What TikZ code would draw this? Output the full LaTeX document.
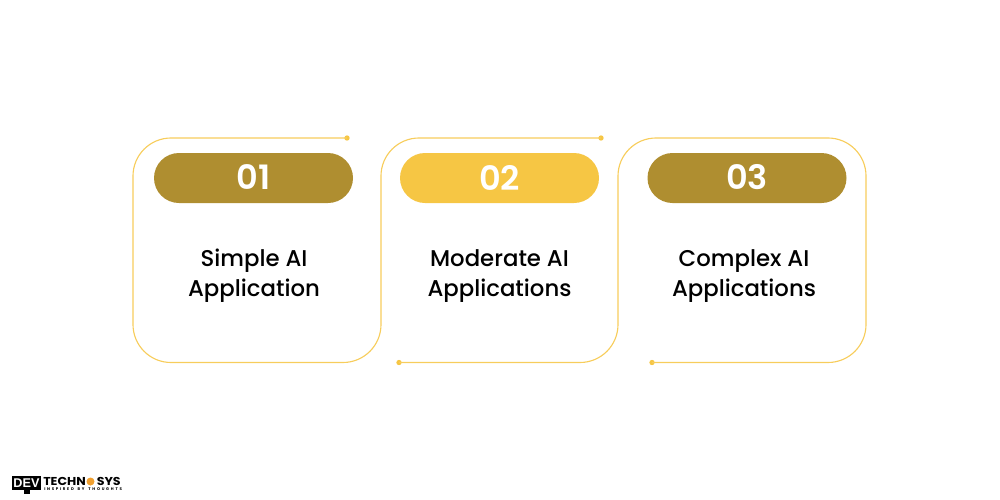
\documentclass[tikz,border=0pt]{standalone}
\usepackage{fontspec}
\setmainfont{Poppins}
\newfontfamily\logofont[FakeStretch=1.1]{Poppins}
\newfontfamily\tagfont[LetterSpace=45,WordSpace=1.5]{Poppins}
\newfontfamily\devfont{Liberation Sans}
\newfontfamily\numfont{Poppins SemiBold}
\newfontfamily\labelfont{Poppins Medium}
\definecolor{goldpill}{HTML}{AF8E30}
\definecolor{yellowpill}{HTML}{F6C644}
\definecolor{linegold}{HTML}{F7CD5C}
\definecolor{logoorange}{HTML}{F0A030}
\tikzset{
  pill/.style={rounded corners=18.75pt,minimum width=149.25pt,minimum height=37.5pt,inner sep=0pt,text=white},
  pilltext/.style={inner sep=0pt,text=white,font=\numfont\fontsize{25.2}{25.2}\selectfont},
  label/.style={align=center,text=black,font=\labelfont\fontsize{17.1}{22.5}\selectfont},
  dotnode/.style={circle,fill=yellowpill,minimum size=4pt,inner sep=0pt},
  frame/.style={draw=linegold,line width=0.85pt,rounded corners=28.5pt},
  logotext/.style={anchor=west,inner sep=0pt,font=\logofont\bfseries\fontsize{8.6}{8.6}\selectfont},
}
\begin{document}
\begin{tikzpicture}[x=0.75pt,y=-0.75pt]
\useasboundingbox (0,0) rectangle (1000,500);
% end dots
\node[dotnode] (d1) at (347,138) {};
\node[dotnode] (d2) at (601,138) {};
\node[dotnode] (d3) at (399,362.5) {};
\node[dotnode] (d4) at (652,362.5) {};
% corners
\coordinate (a1) at (133,138);
\coordinate (a2) at (133,362.5);
\coordinate (a3) at (381,362.5);
\coordinate (a4) at (381,138);
\coordinate (b1) at (618,362.5);
\coordinate (b2) at (618,138);
\coordinate (b3) at (866,138);
\coordinate (b4) at (866,362.5);
\draw[frame] (d1.center) -- (a1) -- (a2) -- (a3) -- (a4) -- (d2.center);
\draw[frame] (d3.center) -- (b1) -- (b2) -- (b3) -- (b4) -- (d4.center);
% pills
\node[pill,fill=goldpill] (p1) at (253.5,178) {};
\node[pill,fill=yellowpill] (p2) at (499.5,178) {};
\node[pill,fill=goldpill] (p3) at (747,178) {};
\node[pilltext] (n1) at (253.5,177.5) {01};
\node[pilltext] (n2) at (499.5,177.5) {02};
\node[pilltext] (n3) at (747,177.5) {03};
% labels
\node[label] (t1) at (254,276) {Simple AI\\Application};
\node[label] (t2) at (499.5,276) {Moderate AI\\Applications};
\node[label] (t3) at (744,276) {Complex AI\\Applications};
% logo
\node[fill=black,text=white,inner sep=0pt,minimum width=21.75pt,minimum height=10.5pt,font=\devfont\bfseries\fontsize{9.5}{9.5}\selectfont] (lg) at (26.5,483) {DEV};
\node[fill=black,minimum width=4.5pt,minimum height=2.6pt,inner sep=0pt] (ls) at (26.5,492) {};
\node[logotext] (lt) at (43,481.5) {TECHN};
\node[circle,fill=logoorange,minimum size=6pt,inner sep=0pt] (lc) at (90.5,481.5) {};
\node[logotext] (ly) at (96.5,481.5) {SYS};
\node[anchor=west,inner sep=0pt,font=\tagfont\bfseries\fontsize{2.9}{2.9}\selectfont] (li) at (44,489.6) {INSPIRED BY THOUGHTS};
\end{tikzpicture}
\end{document}
